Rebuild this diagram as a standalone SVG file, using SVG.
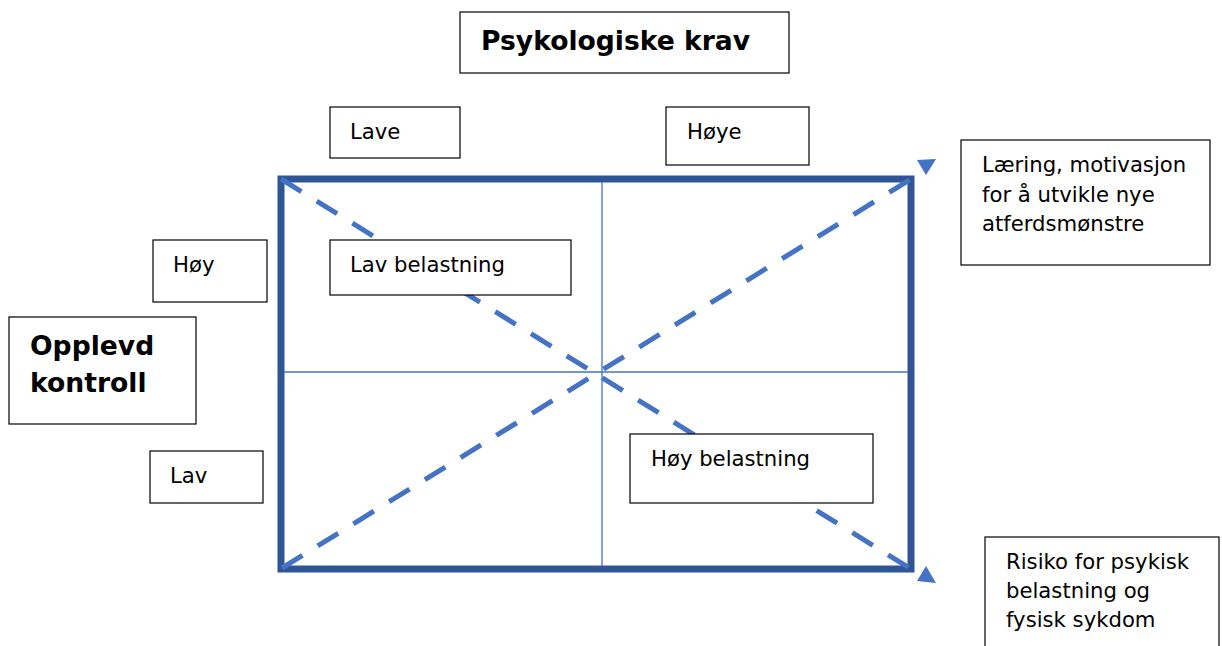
<svg xmlns="http://www.w3.org/2000/svg" width="1222" height="646" viewBox="0 0 1222 646">
<style>
  .box { fill: #ffffff; stroke: #000000; stroke-width: 1.2; }
  .t { font-family: "DejaVu Sans", Verdana, sans-serif; font-size: 21.2px; fill: #000000; }
  .tb { font-family: "DejaVu Sans", Verdana, sans-serif; font-size: 26.6px; font-weight: bold; fill: #000000; }
  .dash { stroke: #4472C4; stroke-width: 5; stroke-dasharray: 24 18; fill: none; }
  .thin { stroke: #4472C4; stroke-width: 1.3; fill: none; }
  .head { fill: #4472C4; }
</style>
<rect width="1222" height="646" fill="#ffffff"/>
<g id="grid">
  <rect x="281" y="179" width="630" height="390" fill="none" stroke="#2F5597" stroke-width="7"/>
  <line class="thin" x1="602" y1="182" x2="602" y2="566"/>
  <line class="thin" x1="284" y1="372" x2="908" y2="372"/>
</g>
<g id="connectors">
  <line class="dash" x1="281" y1="179" x2="911" y2="569"/>
  <line class="dash" x1="282" y1="568" x2="911" y2="179"/>
  <polygon class="head" points="936,159 917,160 926,175"/>
  <polygon class="head" points="936,583 926,566 917,581"/>
</g>
<g id="psykologiske-krav">
  <rect class="box" x="460" y="12" width="329" height="61"/>
  <text class="tb" x="481" y="50">Psykologiske krav</text>
</g>
<g id="lave">
  <rect class="box" x="330" y="107" width="130" height="51"/>
  <text class="t" x="350" y="139">Lave</text>
</g>
<g id="hoye">
  <rect class="box" x="666" y="107" width="143" height="58"/>
  <text class="t" x="687" y="139">Høye</text>
</g>
<g id="hoy">
  <rect class="box" x="153" y="240" width="114" height="62"/>
  <text class="t" x="173" y="272">Høy</text>
</g>
<g id="lav">
  <rect class="box" x="150" y="451" width="113" height="52"/>
  <text class="t" x="170" y="483">Lav</text>
</g>
<g id="opplevd-kontroll">
  <rect class="box" x="9" y="317" width="187" height="107"/>
  <text class="tb" x="30" y="355">Opplevd</text>
  <text class="tb" x="30" y="392">kontroll</text>
</g>
<g id="lav-belastning">
  <rect class="box" x="330" y="240" width="241" height="55"/>
  <text class="t" x="350" y="272">Lav belastning</text>
</g>
<g id="hoy-belastning">
  <rect class="box" x="630" y="434" width="243" height="69"/>
  <text class="t" x="651" y="466">Høy belastning</text>
</g>
<g id="laering">
  <rect class="box" x="961" y="140" width="249" height="125"/>
  <text class="t" x="982" y="172">Læring, motivasjon</text>
  <text class="t" x="982" y="202">for å utvikle nye</text>
  <text class="t" x="982" y="231">atferdsmønstre</text>
</g>
<g id="risiko">
  <rect class="box" x="985" y="537" width="234" height="120"/>
  <text class="t" x="1006" y="569">Risiko for psykisk</text>
  <text class="t" x="1006" y="598">belastning og</text>
  <text class="t" x="1006" y="627">fysisk sykdom</text>
</g>
</svg>
